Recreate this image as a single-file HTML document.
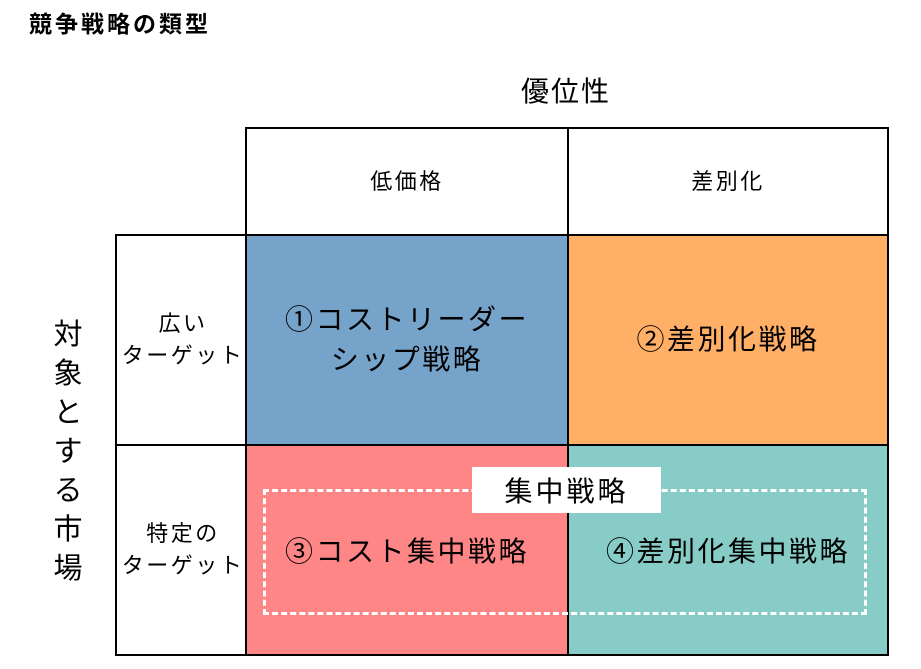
<!DOCTYPE html>
<html><head><meta charset="utf-8"><style>
body{margin:0;width:921px;height:669px;background:#fff;position:relative;overflow:hidden;font-family:"Liberation Sans","Noto Sans CJK JP",sans-serif;color:#000}
.a{position:absolute}
.c{position:absolute;display:flex;align-items:center;justify-content:center;text-align:center;box-sizing:border-box;border:2px solid #000}
.big{font-size:28px;letter-spacing:2.5px;line-height:40px}
.sm{font-size:22px;letter-spacing:2.5px;line-height:32px}
</style></head><body>
<div class="a" style="left:29px;top:5px;font-size:23px;font-weight:bold;letter-spacing:3px">競争戦略の類型</div>
<div class="a" style="left:521px;top:70px;font-size:28px;letter-spacing:2px">優位性</div>
<div class="c sm" style="left:245px;top:127px;width:324px;height:109px">低価格</div>
<div class="c sm" style="left:567px;top:127px;width:322px;height:109px">差別化</div>
<div class="c sm" style="left:115px;top:234px;width:132px;height:212px;padding-left:4px">広い<br>ターゲット</div>
<div class="c sm" style="left:115px;top:444px;width:132px;height:212px;padding-left:4px">特定の<br>ターゲット</div>
<div class="c big" style="left:245px;top:234px;width:324px;height:212px;background:#76A3C9">①コストリーダー<br>シップ戦略</div>
<div class="c big" style="left:567px;top:234px;width:322px;height:212px;background:#FFAF66">②差別化戦略</div>
<div class="c big" style="left:245px;top:444px;width:324px;height:212px;background:#FF8687;padding-top:4px">③コスト集中戦略</div>
<div class="c big" style="left:567px;top:444px;width:322px;height:212px;background:#87CCC6;padding-top:4px">④差別化集中戦略</div>
<div class="a" style="left:263px;top:489px;width:598px;height:120px;border:3px dashed #fff"></div>
<div class="a" style="left:472px;top:467px;width:189px;height:46px;background:#fff;display:flex;align-items:center;justify-content:center;font-size:28px;letter-spacing:3px">集中戦略</div>
<div class="a" style="left:50px;top:316px;width:36px;font-size:29px;line-height:39px;text-align:center">対象とする市場</div>
</body></html>
